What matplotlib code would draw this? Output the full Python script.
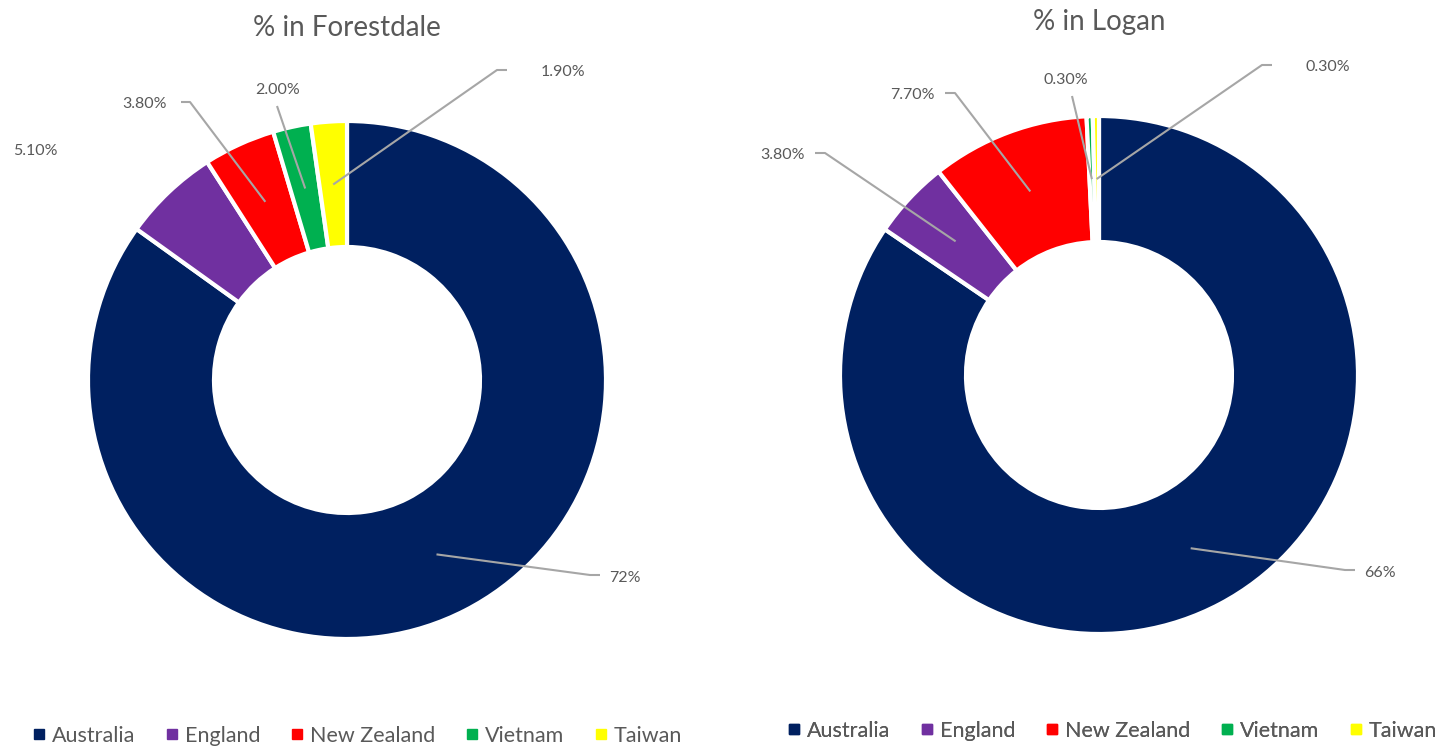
import numpy as np
import matplotlib.pyplot as plt
from matplotlib.lines import Line2D

plt.rcParams['font.family'] = ['Lato', 'DejaVu Sans']

countries = ['Australia', 'England', 'New Zealand', 'Vietnam', 'Taiwan']
colors = ['#002060', '#7030A0', '#FF0000', '#00B050', '#FFFF00']

forestdale = [72, 5.1, 3.8, 2.0, 1.9]
forestdale_labels = ['72%', '5.10%', '3.80%', '2.00%', '1.90%']
logan = [66, 3.8, 7.7, 0.3, 0.3]
logan_labels = ['66%', '3.80%', '7.70%', '0.30%', '0.30%']

W, H = 1440, 747
text_col = '#595959'
line_col = '#A6A6A6'
R_OUT, R_IN = 259, 133

fig = plt.figure(figsize=(W / 100, H / 100), dpi=100)
ax = fig.add_axes([0, 0, 1, 1])


def py(y):
    # pixel row (from top) -> data y
    return H - y


def donut(cx, cy, vals, labels, title, title_y, text_pos, elbows):
    wedges, _ = ax.pie(vals, colors=colors, startangle=90, counterclock=False,
                       center=(cx, py(cy)), radius=R_OUT,
                       wedgeprops=dict(width=R_OUT - R_IN, edgecolor='white', linewidth=3))
    ax.text(cx, py(title_y), title, ha='center', va='center', fontsize=20, color=text_col)
    r_mid = (R_OUT + R_IN) / 2
    for w, lab, tp, el in zip(wedges, labels, text_pos, elbows):
        ang = np.deg2rad((w.theta1 + w.theta2) / 2)
        ax_, ay_ = cx + r_mid * np.cos(ang), py(cy) + r_mid * np.sin(ang)
        ax.text(tp[0], py(tp[1]), lab, ha='center', va='center', fontsize=11.5, color=text_col)
        if el is None:
            continue
        ex, ey, hx = el
        xs = [ax_, ex] + ([hx] if hx is not None else [])
        ys = [ay_, py(ey)] + ([py(ey)] if hx is not None else [])
        ax.plot(xs, ys, color=line_col, lw=1.5, solid_capstyle='butt')
    return wedges


# label centres and leader elbows (pixel coords), order matches countries
donut(347, 380, forestdale, forestdale_labels, '% in Forestdale', 28,
      [(625, 578), (35, 151), (145, 104), (278, 90), (563, 72)],
      [(590, 575, 600), None, (190, 102, 181), (277, 106, None), (497, 70, 507)])
donut(1099, 375, logan, logan_labels, '% in Logan', 22,
      [(1380, 573), (783, 155), (912, 95), (1066, 80), (1328, 67)],
      [(1345, 570, 1355), (825, 153, 815), (955, 93, 945), (1072, 96, None), (1262, 65, 1272)])

handles = [Line2D([], [], marker='s', ls='none', markersize=7, markerfacecolor=c,
                  markeredgecolor=c) for c in colors]
for x0, y0 in [(33, 736), (788, 731)]:
    leg = ax.legend(handles, countries, ncol=5, loc='center left', frameon=False,
                    bbox_to_anchor=(x0, py(y0)), bbox_transform=ax.transData,
                    fontsize=15.5, handlelength=0.6, handletextpad=0.3,
                    columnspacing=1.4, borderpad=0, borderaxespad=0)
    for t in leg.get_texts():
        t.set_color(text_col)
    ax.add_artist(leg)

ax.set_xlim(0, W)
ax.set_ylim(0, H)
ax.set_aspect('equal')
ax.axis('off')
fig.savefig('out.png', dpi=100)
